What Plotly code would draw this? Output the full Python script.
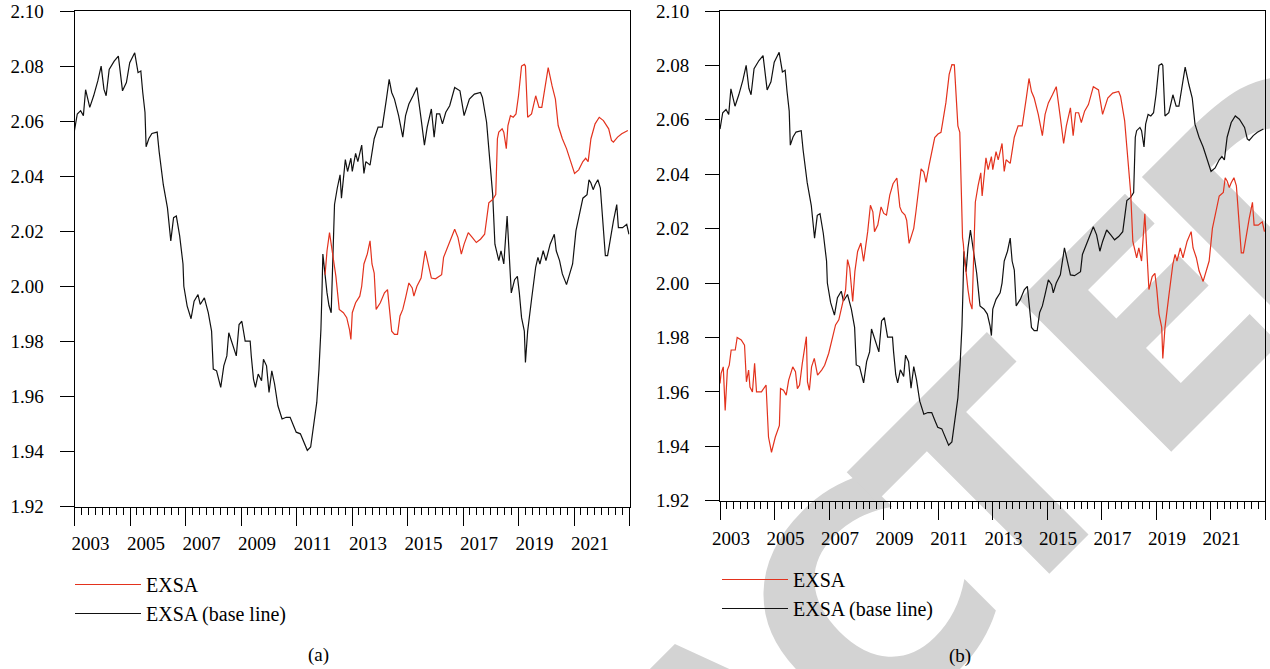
import base64
import plotly.graph_objects as go

# ---------------- data (decimal years) ----------------
base_year = [2003.00, 2003.10, 2003.22, 2003.32, 2003.40, 2003.55, 2003.69, 2003.84, 2003.96, 2004.06,
             2004.14, 2004.25, 2004.43, 2004.58, 2004.73, 2004.87, 2004.99, 2005.17, 2005.29, 2005.39,
             2005.46, 2005.54, 2005.58, 2005.68, 2005.79, 2005.98, 2006.05, 2006.20, 2006.35, 2006.47,
             2006.57, 2006.67, 2006.79, 2006.91, 2006.94, 2007.06, 2007.20, 2007.31, 2007.45, 2007.53,
             2007.68, 2007.82, 2007.94, 2008.00, 2008.12, 2008.27, 2008.38, 2008.49, 2008.56, 2008.68,
             2008.83, 2008.93, 2009.03, 2009.15, 2009.33, 2009.37, 2009.45, 2009.52, 2009.62, 2009.74,
             2009.81, 2009.92, 2010.01, 2010.11, 2010.21, 2010.33, 2010.48, 2010.63, 2010.77, 2010.89,
             2010.99, 2011.14, 2011.29, 2011.39, 2011.51, 2011.63, 2011.73, 2011.81, 2011.88, 2011.92,
             2011.95, 2012.10, 2012.17, 2012.25, 2012.37, 2012.47, 2012.57, 2012.62, 2012.76, 2012.84,
             2012.96, 2013.01, 2013.13, 2013.21, 2013.35, 2013.43, 2013.50, 2013.65, 2013.80, 2013.94,
             2014.09, 2014.24, 2014.34, 2014.43, 2014.53, 2014.68, 2014.83, 2014.93, 2015.05, 2015.20,
             2015.34, 2015.49, 2015.61, 2015.71, 2015.86, 2015.96, 2016.05, 2016.16, 2016.26, 2016.38,
             2016.52, 2016.70, 2016.89, 2017.04, 2017.23, 2017.41, 2017.63, 2017.70, 2017.85, 2017.93,
             2018.00, 2018.07, 2018.15, 2018.22, 2018.29, 2018.37, 2018.47, 2018.59, 2018.66, 2018.74,
             2018.86, 2018.96, 2019.03, 2019.11, 2019.21, 2019.25, 2019.33, 2019.40, 2019.47, 2019.62,
             2019.70, 2019.77, 2019.89, 2019.99, 2020.14, 2020.29, 2020.36, 2020.48, 2020.58, 2020.73,
             2020.88, 2020.95, 2021.07, 2021.17, 2021.32, 2021.47, 2021.54, 2021.61, 2021.69, 2021.76,
             2021.86, 2021.95, 2022.06, 2022.13, 2022.21, 2022.31, 2022.42, 2022.54, 2022.60, 2022.75,
             2022.90, 2022.98]
base_value = [2.0566, 2.0626, 2.0638, 2.0620, 2.0714, 2.0650, 2.0692, 2.0746, 2.0800, 2.0716,
              2.0692, 2.0788, 2.0818, 2.0836, 2.0710, 2.0740, 2.0812, 2.0848, 2.0776, 2.0782,
              2.0704, 2.0632, 2.0507, 2.0537, 2.0555, 2.0560, 2.0489, 2.0369, 2.0285, 2.0165,
              2.0249, 2.0255, 2.0183, 2.0081, 2.0000, 1.9928, 1.9882, 1.9946, 1.9970, 1.9934,
              1.9958, 1.9904, 1.9837, 1.9699, 1.9693, 1.9633, 1.9711, 1.9747, 1.9831, 1.9795,
              1.9747, 1.9861, 1.9873, 1.9801, 1.9801, 1.9747, 1.9663, 1.9633, 1.9681, 1.9657,
              1.9735, 1.9711, 1.9614, 1.9693, 1.9645, 1.9566, 1.9518, 1.9524, 1.9524, 1.9494,
              1.9470, 1.9464, 1.9428, 1.9404, 1.9416, 1.9500, 1.9578, 1.9699, 1.9843, 1.9988,
              2.0117, 1.9976, 1.9930, 1.9904, 2.0297, 2.0357, 2.0405, 2.0320, 2.0460, 2.0417,
              2.0465, 2.0417, 2.0483, 2.0453, 2.0513, 2.0410, 2.0453, 2.0440, 2.0536, 2.0578,
              2.0578, 2.0680, 2.0752, 2.0704, 2.0680, 2.0620, 2.0542, 2.0620, 2.0662, 2.0692,
              2.0722, 2.0608, 2.0513, 2.0578, 2.0644, 2.0542, 2.0626, 2.0626, 2.0590, 2.0632,
              2.0656, 2.0722, 2.0710, 2.0620, 2.0680, 2.0698, 2.0704, 2.0686, 2.0596, 2.0500,
              2.0417, 2.0333, 2.0153, 2.0117, 2.0093, 2.0129, 2.0081, 2.0255, 2.0105, 1.9976,
              2.0024, 2.0036, 1.9976, 1.9886, 1.9837, 1.9723, 1.9837, 1.9904, 1.9952, 2.0070,
              2.0105, 2.0081, 2.0129, 2.0093, 2.0153, 2.0189, 2.0129, 2.0093, 2.0045, 2.0006,
              2.0054, 2.0081, 2.0201, 2.0249, 2.0320, 2.0333, 2.0387, 2.0375, 2.0351, 2.0369,
              2.0387, 2.0357, 2.0213, 2.0111, 2.0111, 2.0177, 2.0237, 2.0297, 2.0213, 2.0213,
              2.0225, 2.0189]

# EXSA scenario of panel (a), starting where it leaves the base line
exsa_year = [2012.03, 2012.10, 2012.19, 2012.28, 2012.37, 2012.42, 2012.48, 2012.54, 2012.69, 2012.81,
             2012.91, 2012.96, 2013.01, 2013.13, 2013.28, 2013.35, 2013.43, 2013.55, 2013.65, 2013.72,
             2013.80, 2013.87, 2014.02, 2014.17, 2014.28, 2014.34, 2014.43, 2014.53, 2014.64, 2014.73,
             2014.83, 2014.93, 2015.05, 2015.17, 2015.23, 2015.34, 2015.49, 2015.64, 2015.76, 2015.86,
             2016.01, 2016.23, 2016.30, 2016.52, 2016.70, 2016.82, 2016.94, 2017.04, 2017.19, 2017.34,
             2017.48, 2017.63, 2017.78, 2017.93, 2018.07, 2018.18, 2018.24, 2018.29, 2018.41, 2018.47,
             2018.56, 2018.62, 2018.71, 2018.81, 2018.91, 2019.00, 2019.11, 2019.21, 2019.25, 2019.33,
             2019.47, 2019.62, 2019.74, 2019.84, 2020.07, 2020.21, 2020.33, 2020.43, 2020.58, 2020.73,
             2020.88, 2021.02, 2021.17, 2021.32, 2021.42, 2021.51, 2021.61, 2021.76, 2021.91, 2022.06,
             2022.25, 2022.35, 2022.42, 2022.57, 2022.72, 2022.94]
exsa_value = [2.0042, 2.0129, 2.0195, 2.0129, 2.0081, 2.0036, 1.9976, 1.9916, 1.9904, 1.9886,
              1.9843, 1.9807, 1.9904, 1.9940, 1.9964, 2.0000, 2.0081, 2.0117, 2.0165, 2.0081,
              2.0048, 1.9916, 1.9940, 1.9976, 1.9988, 1.9928, 1.9837, 1.9825, 1.9825, 1.9892,
              1.9916, 1.9958, 2.0012, 1.9994, 1.9964, 2.0000, 2.0030, 2.0129, 2.0081, 2.0030,
              2.0027, 2.0042, 2.0105, 2.0165, 2.0207, 2.0177, 2.0117, 2.0153, 2.0195, 2.0177,
              2.0159, 2.0171, 2.0189, 2.0303, 2.0315, 2.0333, 2.0536, 2.0560, 2.0572, 2.0560,
              2.0500, 2.0584, 2.0620, 2.0614, 2.0626, 2.0692, 2.0800, 2.0806, 2.0800, 2.0614,
              2.0626, 2.0692, 2.0650, 2.0650, 2.0794, 2.0728, 2.0680, 2.0584, 2.0536, 2.0500,
              2.0453, 2.0410, 2.0423, 2.0453, 2.0465, 2.0453, 2.0536, 2.0590, 2.0614, 2.0602,
              2.0572, 2.0530, 2.0524, 2.0542, 2.0554, 2.0566]

# EXSA scenario of panel (b) before it joins the base path
alt_year = [2003.00, 2003.04, 2003.12, 2003.19, 2003.27, 2003.34, 2003.41, 2003.56, 2003.63, 2003.78,
            2003.90, 2003.97, 2004.05, 2004.10, 2004.19, 2004.27, 2004.34, 2004.52, 2004.69, 2004.78,
            2004.89, 2005.03, 2005.18, 2005.22, 2005.33, 2005.43, 2005.52, 2005.67, 2005.77, 2005.84,
            2005.92, 2006.02, 2006.17, 2006.21, 2006.28, 2006.36, 2006.46, 2006.58, 2006.73, 2006.84,
            2006.99, 2007.14, 2007.24, 2007.36, 2007.46, 2007.61, 2007.68, 2007.76, 2007.87, 2007.95,
            2008.05, 2008.17, 2008.27, 2008.42, 2008.52, 2008.61, 2008.67, 2008.79, 2008.91, 2009.01,
            2009.11, 2009.23, 2009.35, 2009.49, 2009.60, 2009.67, 2009.79, 2009.85, 2009.94, 2010.04,
            2010.11, 2010.19, 2010.29, 2010.38, 2010.48, 2010.56, 2010.67, 2010.78, 2010.88, 2011.00,
            2011.11, 2011.17, 2011.29, 2011.41, 2011.51, 2011.60, 2011.66, 2011.73, 2011.80, 2011.85,
            2011.87, 2011.90, 2011.93]
alt_value = [1.9631, 1.9668, 1.9692, 1.9532, 1.9680, 1.9698, 1.9754, 1.9754, 1.9800, 1.9791,
             1.9772, 1.9637, 1.9680, 1.9618, 1.9600, 1.9705, 1.9600, 1.9600, 1.9625, 1.9434,
             1.9378, 1.9434, 1.9477, 1.9612, 1.9606, 1.9588, 1.9643, 1.9692, 1.9674, 1.9612,
             1.9625, 1.9705, 1.9803, 1.9637, 1.9606, 1.9692, 1.9723, 1.9662, 1.9680, 1.9698,
             1.9742, 1.9800, 1.9846, 1.9865, 1.9914, 1.9975, 2.0086, 2.0055, 1.9932, 2.0043,
             2.0116, 2.0147, 2.0080, 2.0189, 2.0286, 2.0262, 2.0189, 2.0213, 2.0280, 2.0256,
             2.0250, 2.0323, 2.0365, 2.0386, 2.0280, 2.0262, 2.0250, 2.0231, 2.0146, 2.0177,
             2.0201, 2.0262, 2.0359, 2.0420, 2.0408, 2.0370, 2.0432, 2.0493, 2.0535, 2.0548,
             2.0554, 2.0590, 2.0663, 2.0767, 2.0803, 2.0802, 2.0675, 2.0578, 2.0554, 2.0339,
             2.0241, 2.0167, 2.0144]

switch_year = 2011.95
year_ticks = list(range(2003, 2024, 2))
year_labels = [str(y) if y < 2023 else "" for y in year_ticks]
value_ticks = [1.92, 1.94, 1.96, 1.98, 2.00, 2.02, 2.04, 2.06, 2.08, 2.10]

# panel (b) paths
k = base_year.index(switch_year)
b_black_x = base_year[:k + 1] + exsa_year
b_black_y = base_value[:k + 1] + exsa_value
b_red_x = alt_year + base_year[k:]
b_red_y = alt_value + base_value[k:]

RED = "#e3321d"
BLACK = "#111111"
FONT = '"Liberation Serif", "Times New Roman", "DejaVu Serif", serif'
W, H = 1270, 669

fig = go.Figure()
fig.add_trace(go.Scatter(x=base_year, y=base_value, mode="lines", name="EXSA (base line)",
                         line=dict(color=BLACK, width=1.2), xaxis="x", yaxis="y", legend="legend"))
fig.add_trace(go.Scatter(x=exsa_year, y=exsa_value, mode="lines", name="EXSA",
                         line=dict(color=RED, width=1.2), xaxis="x", yaxis="y", legend="legend"))
fig.add_trace(go.Scatter(x=b_black_x, y=b_black_y, mode="lines", name="EXSA (base line)",
                         line=dict(color=BLACK, width=1.2), xaxis="x2", yaxis="y2", legend="legend2"))
fig.add_trace(go.Scatter(x=b_red_x, y=b_red_y, mode="lines", name="EXSA",
                         line=dict(color=RED, width=1.2), xaxis="x2", yaxis="y2", legend="legend2"))


def xaxis(domain, shift, anchor):
    return dict(domain=domain, range=[2003, 2023], tickmode="array", tickvals=year_ticks,
                ticktext=year_labels, ticks="outside", ticklen=18, tickwidth=1, tickcolor="black",
                showline=True, linecolor="black", linewidth=1, mirror=True, showgrid=False,
                zeroline=False, ticklabelshift=shift, ticklabelstandoff=2, automargin=False,
                anchor=anchor,
                tickfont=dict(family=FONT, size=19, color="black"),
                minor=dict(tickmode="linear", tick0=2003, dtick=0.25, ticks="outside",
                           ticklen=7, tickwidth=1, tickcolor="black", showgrid=False))


def yaxis(domain, anchor):
    return dict(domain=domain, range=[1.92, 2.10], tickmode="array", tickvals=value_ticks,
                tickformat=".2f", ticks="outside", ticklen=14, tickwidth=1, tickcolor="black",
                showline=True, linecolor="black", linewidth=1, mirror=True, showgrid=False,
                zeroline=False, anchor=anchor, ticklabelstandoff=12, automargin=False,
                tickfont=dict(family=FONT, size=19, color="black"))


# watermark stamp (drawn underneath the chart)
wx, wy = 196, 1427
svg = ('<svg xmlns="http://www.w3.org/2000/svg" width="%d" height="%d" viewBox="0 0 %d %d">'
       '<text x="%d" y="%d" dx="0 0 0 0 0 0 0 45 0" transform="rotate(-45 %d %d)" '
       'font-family="DejaVu Sans" font-weight="bold" font-size="295" letter-spacing="-28" '
       'fill="#d3d3d3">RETRACTED</text>'
       '</svg>') % (W, H, W, H, wx, wy, wx, wy)
svg_uri = "data:image/svg+xml;base64," + base64.b64encode(svg.encode()).decode()

legend_common = dict(font=dict(family=FONT, size=20, color="black"), bgcolor="rgba(0,0,0,0)",
                     traceorder="reversed", xanchor="left", yanchor="top", itemwidth=66,
                     tracegroupgap=0)

fig.update_layout(
    width=W, height=H, margin=dict(l=0, r=0, t=0, b=0, autoexpand=False),
    paper_bgcolor="white", plot_bgcolor="rgba(0,0,0,0)",
    xaxis=xaxis([74.5 / W, 629.5 / W], 16, "y"),
    yaxis=yaxis([1 - 506.5 / H, 1 - 11 / H], "x"),
    xaxis2=xaxis([720 / W, 1265 / W], 11, "y2"),
    yaxis2=yaxis([1 - 500.7 / H, 1 - 11 / H], "x2"),
    legend=dict(x=70 / W, y=1 - 565 / H, **legend_common),
    legend2=dict(x=717 / W, y=1 - 560 / H, **legend_common),
    annotations=[
        dict(text="(a)", x=319 / W, y=1 - 655 / H, xref="paper", yref="paper", showarrow=False,
             xanchor="center", yanchor="middle", font=dict(family=FONT, size=19, color="black")),
        dict(text="(b)", x=960 / W, y=1 - 656 / H, xref="paper", yref="paper", showarrow=False,
             xanchor="center", yanchor="middle", font=dict(family=FONT, size=19, color="black")),
    ],
    images=[dict(source=svg_uri, xref="paper", yref="paper", x=0, y=1, sizex=1, sizey=1,
                 xanchor="left", yanchor="top", sizing="stretch", layer="below")],
    showlegend=True,
)

# the page body has a default 8px margin; remove it so the figure sits at the window origin
fig.write_html("out.html", config={"displayModeBar": False},
               post_script="document.body.style.margin='0';")
